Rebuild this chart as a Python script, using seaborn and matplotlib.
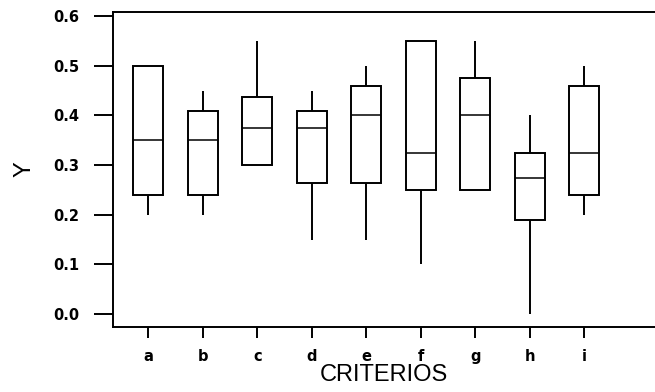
import numpy as np
import pandas as pd
import matplotlib
matplotlib.use("Agg")
import matplotlib.pyplot as plt
import seaborn as sns

# Five-number summaries per criterion
criterios = ["a", "b", "c", "d", "e", "f", "g", "h", "i"]
y_min = [0.20, 0.20, 0.30, 0.15, 0.15, 0.10, 0.25, 0.00, 0.20]
y_q1 = [0.24, 0.24, 0.30, 0.263, 0.263, 0.25, 0.25, 0.19, 0.24]
y_med = [0.35, 0.35, 0.375, 0.375, 0.40, 0.325, 0.40, 0.275, 0.325]
y_q3 = [0.50, 0.41, 0.4375, 0.41, 0.46, 0.55, 0.475, 0.325, 0.46]
y_max = [0.50, 0.45, 0.55, 0.45, 0.50, 0.55, 0.55, 0.40, 0.50]

# Long-form table: five observations per group reproduce the quartiles exactly
rows = []
for c, a, b, m, d, e in zip(criterios, y_min, y_q1, y_med, y_q3, y_max):
    for v in (a, b, m, d, e):
        rows.append({"CRITERIOS": c, "Y": v})
df = pd.DataFrame(rows)

sns.set_style("white")
plt.rcParams["font.family"] = ["Liberation Sans", "DejaVu Sans"]

fig = plt.figure(figsize=(6.55, 3.92), dpi=100)
ax = fig.add_axes([0.1725, 0.166, 0.8275, 0.804])

sns.boxplot(
    data=df, x="CRITERIOS", y="Y", order=criterios,
    whis=(0, 100), width=0.55, showcaps=False,
    color="white", linecolor="black", linewidth=1.4,
    medianprops={"linewidth": 1.1},
    ax=ax,
)

ax.set_xlim(-0.65, 9.3)
ax.set_ylim(-0.026, 0.609)
ax.set_yticks([0.0, 0.1, 0.2, 0.3, 0.4, 0.5, 0.6])
ax.set_yticklabels(["0.0", "0.1", "0.2", "0.3", "0.4", "0.5", "0.6"])

for side in ("left", "bottom", "top"):
    ax.spines[side].set_visible(True)
    ax.spines[side].set_color("black")
    ax.spines[side].set_linewidth(1.4)
ax.spines["right"].set_visible(False)

ax.tick_params(axis="y", direction="out", length=14, width=1.4, pad=10,
               left=True, colors="black")
ax.tick_params(axis="x", direction="out", length=8, width=1.4, pad=8,
               bottom=True, colors="black")
for lab in ax.get_xticklabels() + ax.get_yticklabels():
    lab.set_fontfamily("DejaVu Sans")
    lab.set_fontweight("bold")
    lab.set_fontsize(10.5)
    lab.set_color("black")

ax.set_xlabel("CRITERIOS", fontsize=17, labelpad=0, color="black")
ax.set_ylabel("Y", fontsize=17, labelpad=13, color="black")

fig.savefig("out.png", dpi=100)
